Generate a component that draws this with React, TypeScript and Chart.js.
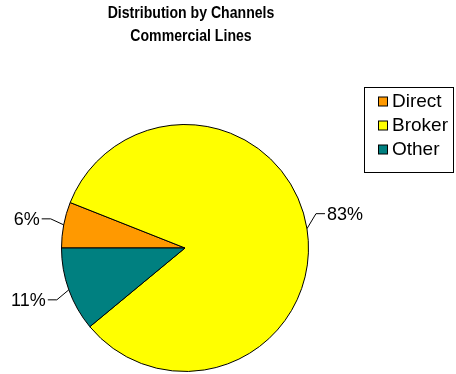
import React, { useEffect, useRef } from "react";
import { Chart, registerables } from "chart.js";

Chart.register(...registerables);

const categories = ["Direct", "Broker", "Other"];
const shares = [6, 83, 11];
const sliceColors = ["#FF9900", "#FFFF00", "#008080"];
const titleLines = ["Distribution by Channels", "Commercial Lines"];

const FONT = "Arial, 'Liberation Sans', sans-serif";

const overlayPlugin = {
  id: "overlay",
  afterDraw(chart: any) {
    const ctx = chart.ctx;
    const opts = chart.options.plugins.overlay;
    ctx.save();
    // Title
    ctx.fillStyle = "#000";
    ctx.font = `bold ${opts.titleSize}px ${FONT}`;
    ctx.textAlign = "center";
    ctx.textBaseline = "middle";
    titleLines.forEach((t, i) => {
      ctx.save();
      ctx.translate(opts.titleX, opts.titleY + i * opts.titleGap);
      ctx.scale(opts.titleScaleX, 1);
      ctx.fillText(t, 0, 0);
      ctx.restore();
    });

    // Data labels with leader lines
    const meta = chart.getDatasetMeta(0);
    const data = chart.data.datasets[0].data as number[];
    const total = data.reduce((a, b) => a + b, 0);
    ctx.font = `${opts.labelSize}px ${FONT}`;
    ctx.strokeStyle = "#000";
    ctx.lineWidth = 1;
    meta.data.forEach((arc: any, i: number) => {
      const p = arc.getProps(["x", "y", "startAngle", "endAngle", "outerRadius"], true);
      const mid = (p.startAngle + p.endAngle) / 2;
      const ex = p.x + Math.cos(mid) * p.outerRadius;
      const ey = p.y + Math.sin(mid) * p.outerRadius;
      const off = opts.elbows[i];
      const bx = ex + off[0];
      const by = ey + off[1];
      const dir = Math.cos(mid) >= 0 ? 1 : -1;
      const tx = bx + dir * opts.tail;
      ctx.beginPath();
      ctx.moveTo(ex, ey);
      ctx.lineTo(bx, by);
      ctx.lineTo(tx, by);
      ctx.stroke();
      ctx.textAlign = dir > 0 ? "left" : "right";
      ctx.textBaseline = "middle";
      const pct = Math.round((data[i] / total) * 100) + "%";
      ctx.fillText(pct, tx + dir * 2, by + 1);
    });

    // Legend
    const L = opts.legend;
    ctx.strokeStyle = "#000";
    ctx.lineWidth = 1;
    ctx.strokeRect(L.x + 0.5, L.y + 0.5, L.w, L.h);
    ctx.font = `${L.fontSize}px ${FONT}`;
    ctx.textAlign = "left";
    ctx.textBaseline = "middle";
    categories.forEach((c, i) => {
      const cy = L.firstY + i * L.gap;
      ctx.fillStyle = sliceColors[i];
      ctx.fillRect(L.boxX + 0.5, cy - L.box / 2 + 0.5, L.box, L.box);
      ctx.strokeRect(L.boxX + 0.5, cy - L.box / 2 + 0.5, L.box, L.box);
      ctx.fillStyle = "#000";
      ctx.fillText(c, L.textX, cy + 1);
    });
    ctx.restore();
  },
};

export default function App() {
  const ref = useRef<HTMLCanvasElement | null>(null);
  useEffect(() => {
    if (!ref.current) return;
    const chart = new Chart(ref.current, {
      type: "pie",
      data: {
        labels: categories,
        datasets: [
          {
            data: shares,
            backgroundColor: sliceColors,
            borderColor: "#000",
            borderWidth: 1,
          },
        ],
      },
      options: {
        responsive: false,
        animation: false,
        devicePixelRatio: 1,
        rotation: 270,
        layout: { padding: { left: 61, right: 147, top: 124, bottom: 2 } },
        plugins: {
          legend: { display: false },
          title: { display: false },
          tooltip: { enabled: false },
          overlay: {
            titleSize: 16,
            titleScaleX: 0.88,
            titleX: 191,
            titleY: 14,
            titleGap: 23,
            labelSize: 18,
            tail: 9,
            elbows: [
              [-13, -6],
              [9, -15],
              [-12, 10],
            ],
            legend: {
              x: 364,
              y: 87,
              w: 89,
              h: 85,
              boxX: 378,
              box: 9,
              textX: 392,
              firstY: 101,
              gap: 24,
              fontSize: 19,
            },
          },
        } as any,
      },
      plugins: [overlayPlugin],
    });
    return () => chart.destroy();
  }, []);
  return (
    <div style={{ position: "absolute", left: 0, top: 0, width: 456, height: 374, background: "#fff" }}>
      <canvas ref={ref} width={456} height={374} style={{ display: "block" }} />
    </div>
  );
}
